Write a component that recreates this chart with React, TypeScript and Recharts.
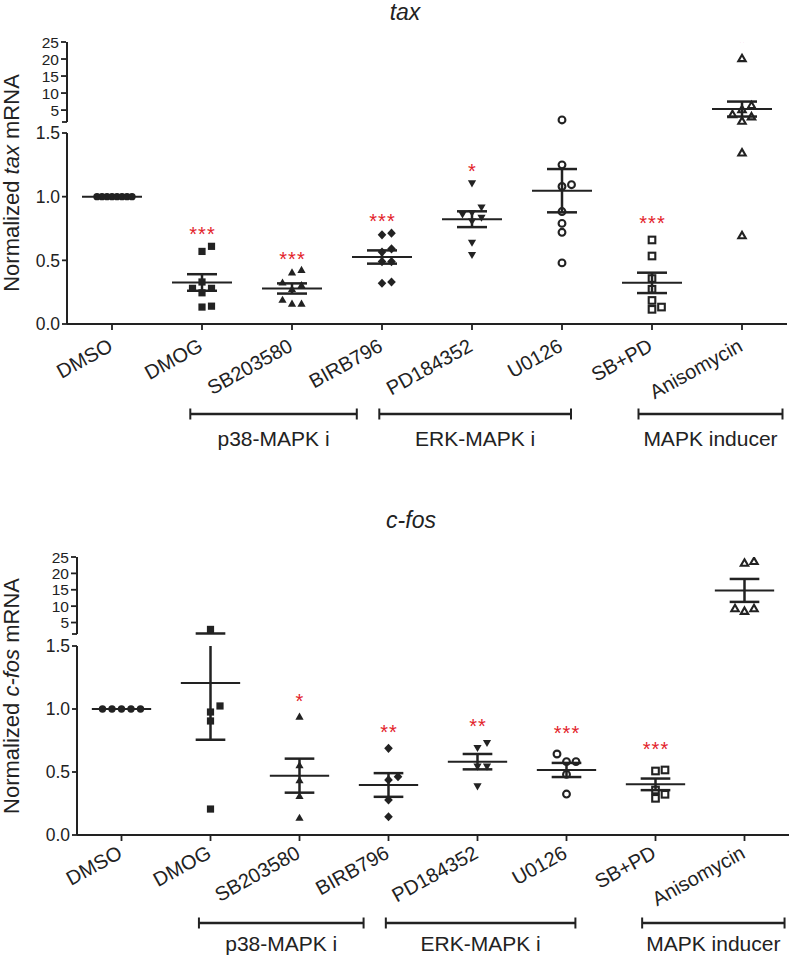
import React from 'react';
import { ComposedChart, Scatter, XAxis, YAxis, ReferenceLine } from 'recharts';

// ---------- data ----------
const categories = ['DMSO', 'DMOG', 'SB203580', 'BIRB796', 'PD184352', 'U0126', 'SB+PD', 'Anisomycin'];
const markerKinds = ['dot', 'square', 'triUp', 'diamond', 'triDown', 'openDot', 'openSquare', 'openTriUp'];

// tax mRNA (normalized)
const taxDMSO = [1, 1, 1, 1, 1, 1, 1, 1];
const taxDMOG = [0.61, 0.57, 0.33, 0.28, 0.28, 0.245, 0.14, 0.133];
const taxSB = [0.42, 0.4, 0.32, 0.3, 0.27, 0.185, 0.155, 0.155];
const taxBIRB = [0.713, 0.7, 0.59, 0.565, 0.49, 0.49, 0.33, 0.32];
const taxPD = [1.11, 0.92, 0.877, 0.865, 0.84, 0.81, 0.643, 0.547];
const taxU0126 = [2.1, 1.25, 1.094, 1.08, 0.883, 0.79, 0.72, 0.48];
const taxSBPD = [0.66, 0.534, 0.357, 0.273, 0.185, 0.133, 0.115];
const taxAniso = [20, 6.2, 5.0, 3.56, 2.9, 1.6, 1.34, 0.69];
const taxMeans = [1.0, 0.326, 0.279, 0.526, 0.823, 1.047, 0.323, 5.3];
const taxSems = [0, 0.065, 0.04, 0.052, 0.062, 0.17, 0.08, 2.2];
const taxSig = ['', '***', '***', '***', '*', '', '***', '*'];

// c-fos mRNA (normalized)
const fosDMSO = [1, 1, 1, 1, 1];
const fosDMOG = [2.9, 1.024, 0.976, 0.905, 0.206];
const fosSB = [0.934, 0.548, 0.429, 0.304, 0.132];
const fosBIRB = [0.688, 0.463, 0.437, 0.278, 0.145];
const fosPD = [0.736, 0.696, 0.548, 0.548, 0.391];
const fosU0126 = [0.643, 0.582, 0.582, 0.481, 0.325];
const fosSBPD = [0.516, 0.508, 0.357, 0.323, 0.291];
const fosAniso = [23.5, 23.0, 9.1, 8.3, 9.1];
const fosMeans = [1.0, 1.206, 0.471, 0.397, 0.582, 0.516, 0.402, 14.8];
const fosSems = [0, 0.45, 0.135, 0.094, 0.061, 0.056, 0.046, 3.5];
const fosSig = ['', '', '*', '**', '**', '***', '***', '*'];

const groupNames = ['p38-MAPK i', 'ERK-MAPK i', 'MAPK inducer'];
const groupSpans = [[0.87, 2.72], [2.97, 5.1], [5.85, 7.45]];

const yTicksLow = [0, 0.5, 1, 1.5];
const yTicksUp = [5, 10, 15, 20, 25];
const BREAK = 1.5;
const UP_MAX = 25;

// ---------- style ----------
const FONT = '"Liberation Sans", Arial, Helvetica, sans-serif';
const INK = '#222';
const RED = '#e3232b';

type PanelCfg = {
  gene: string;
  points: number[][];
  means: number[];
  sems: number[];
  sig: string[];
  chartTop: number;
  chartHeight: number;
  plotLeft: number;
  plotRight: number;
  plotTop: number;
  plotBottom: number;
  lowTopPx: number;
  upBottomPx: number;
  tickDy: number;
  bracketPx: number;
  bracketLabelPx: number;
  starGap: number;
};

const TOP: PanelCfg = {
  gene: 'tax',
  points: [taxDMSO, taxDMOG, taxSB, taxBIRB, taxPD, taxU0126, taxSBPD, taxAniso],
  means: taxMeans, sems: taxSems, sig: taxSig,
  chartTop: 0, chartHeight: 470,
  plotLeft: 67, plotRight: 787, plotTop: 42, plotBottom: 324,
  lowTopPx: 133, upBottomPx: 122,
  tickDy: 18, bracketPx: 90, bracketLabelPx: 32, starGap: 16,
};

const BOTTOM: PanelCfg = {
  gene: 'c-fos',
  points: [fosDMSO, fosDMOG, fosSB, fosBIRB, fosPD, fosU0126, fosSBPD, fosAniso],
  means: fosMeans, sems: fosSems, sig: fosSig,
  chartTop: 480, chartHeight: 477,
  plotLeft: 77, plotRight: 789, plotTop: 557, plotBottom: 835,
  lowTopPx: 646, upBottomPx: 634,
  tickDy: 14, bracketPx: 88, bracketLabelPx: 28, starGap: 20,
};

// ---------- helpers ----------
function swarm(values: number[], toPx: (v: number) => number, step = 9.5, diam = 8, maxHalf = 20): number[] {
  const order = values.map((_, i) => i).sort((a, b) => values[a] - values[b]);
  const placed: { x: number; y: number }[] = [];
  const off = new Array(values.length).fill(0);
  for (const i of order) {
    const y = toPx(values[i]);
    for (let k = 0; k < 60; k++) {
      const c = k === 0 ? 0 : (k % 2 === 1 ? 1 : -1) * Math.ceil(k / 2) * step;
      if (placed.every((p) => Math.hypot(p.x - c, p.y - y) >= diam)) {
        off[i] = c;
        placed.push({ x: c, y });
        break;
      }
    }
  }
  const m = Math.max(...off.map((o) => Math.abs(o)));
  const s = m > maxHalf ? maxHalf / m : 1;
  return off.map((o) => o * s);
}

function Marker({ cx, cy, kind }: { cx: number; cy: number; kind: string }) {
  if (cx == null || cy == null) return null;
  switch (kind) {
    case 'dot':
      return <circle cx={cx} cy={cy} r={3.7} fill={INK} />;
    case 'square':
      return <rect x={cx - 3.6} y={cy - 3.6} width={7.2} height={7.2} fill={INK} />;
    case 'triUp': {
      const s = 8.2, h = s * 0.866;
      return <polygon points={`${cx},${cy - (h * 2) / 3} ${cx + s / 2},${cy + h / 3} ${cx - s / 2},${cy + h / 3}`} fill={INK} />;
    }
    case 'diamond':
      return <polygon points={`${cx},${cy - 4.6} ${cx + 4.3},${cy} ${cx},${cy + 4.6} ${cx - 4.3},${cy}`} fill={INK} />;
    case 'triDown': {
      const s = 8.2, h = s * 0.866;
      return <polygon points={`${cx},${cy + (h * 2) / 3} ${cx + s / 2},${cy - h / 3} ${cx - s / 2},${cy - h / 3}`} fill={INK} />;
    }
    case 'openDot':
      return <circle cx={cx} cy={cy} r={3.4} fill="none" stroke={INK} strokeWidth={2.1} />;
    case 'openSquare':
      return <rect x={cx - 3.3} y={cy - 3.3} width={6.6} height={6.6} fill="none" stroke={INK} strokeWidth={2.1} />;
    case 'openTriUp': {
      const s = 7.4, h = s * 0.866;
      return (
        <polygon
          points={`${cx},${cy - (h * 2) / 3} ${cx + s / 2},${cy + h / 3} ${cx - s / 2},${cy + h / 3}`}
          fill="none" stroke={INK} strokeWidth={2.1}
        />
      );
    }
    default:
      return null;
  }
}

function CatTick(props: any) {
  const { x, y, payload, dyOff } = props;
  return (
    <g transform={`translate(${x + 2},${y + dyOff})`}>
      <text textAnchor="end" transform="rotate(-29)" fontSize={20} fill={INK} fontFamily={FONT}>
        {categories[payload.value]}
      </text>
    </g>
  );
}

function YLabel(props: any) {
  const { lx, ly, gene } = props;
  return (
    <text transform={`translate(${lx},${ly}) rotate(-90)`} textAnchor="middle" fontSize={22} fill={INK} fontFamily={FONT}>
      {'Normalized '}
      <tspan fontStyle="italic">{gene}</tspan>
      {' mRNA'}
    </text>
  );
}

function GroupLabel(props: any) {
  const { viewBox, txt, gy } = props;
  const vb = viewBox || { x: 0, y: 0, width: 0 };
  return (
    <text x={vb.x + (vb.width || 0) / 2} y={vb.y + gy} textAnchor="middle" fontSize={21} fill={INK} fontFamily={FONT}>
      {txt}
    </text>
  );
}

function Panel({ cfg }: { cfg: PanelCfg }) {
  const plotH = cfg.plotBottom - cfg.plotTop;
  const lowPPU = (cfg.plotBottom - cfg.lowTopPx) / BREAK;
  const upPPU = (cfg.upBottomPx - cfg.plotTop) / (UP_MAX - BREAK);
  const lowDomain: [number, number] = [0, plotH / lowPPU];
  const upDomain: [number, number] = [UP_MAX - plotH / upPPU, UP_MAX];
  const band = (cfg.plotRight - cfg.plotLeft) / categories.length;
  const isUp = (v: number) => v > BREAK;
  const toPx = (v: number) => (isUp(v) ? cfg.upBottomPx - (v - BREAK) * upPPU : cfg.plotBottom - v * lowPPU);
  const axisOf = (v: number) => (isUp(v) ? 'up' : 'low');

  const els: React.ReactElement[] = [];
  const seg = (key: string, x1: number, y1: number, x2: number, y2: number, axis: string, sw: number, label?: any) => (
    <ReferenceLine
      key={key}
      yAxisId={axis}
      segment={[{ x: x1, y: y1 }, { x: x2, y: y2 }]}
      stroke={INK}
      strokeWidth={sw}
      ifOverflow="visible"
      label={label}
    />
  );

  // broken y-axis line segments (with a small foot at the lower end of the upper segment)
  els.push(seg('ax-low', -0.5, 0, -0.5, BREAK, 'low', 2));
  els.push(seg('ax-up', -0.5, BREAK, -0.5, UP_MAX, 'up', 2));
  els.push(seg('ax-foot', -0.5 - 5 / band, BREAK, -0.5, BREAK, 'up', 1.8));

  // points
  categories.forEach((_, i) => {
    const vals = cfg.points[i];
    const offs = swarm(vals, toPx);
    const pts = vals.map((v, j) => ({ x: i + offs[j] / band, y: v }));
    const kind = markerKinds[i];
    const shape = (p: any) => <Marker cx={p.cx} cy={p.cy} kind={kind} />;
    const low = pts.filter((p) => !isUp(p.y));
    const up = pts.filter((p) => isUp(p.y));
    if (low.length)
      els.push(<Scatter key={`pl-${i}`} data={low} yAxisId="low" shape={shape} isAnimationActive={false} />);
    if (up.length)
      els.push(<Scatter key={`pu-${i}`} data={up} yAxisId="up" shape={shape} isAnimationActive={false} />);
  });

  // mean & SEM
  categories.forEach((_, i) => {
    const m = cfg.means[i];
    const s = cfg.sems[i];
    els.push(seg(`mean-${i}`, i - 1 / 3, m, i + 1 / 3, m, axisOf(m), 2));
    if (s > 0) {
      const lo = m - s;
      const hi = m + s;
      if (!isUp(hi)) {
        els.push(seg(`v-${i}`, i, lo, i, hi, 'low', 2.5));
      } else if (isUp(lo)) {
        els.push(seg(`v-${i}`, i, lo, i, hi, 'up', 2.5));
      } else {
        els.push(seg(`vl-${i}`, i, lo, i, BREAK, 'low', 2.5));
        els.push(seg(`vu-${i}`, i, BREAK, i, hi, 'up', 2.5));
      }
      els.push(seg(`ch-${i}`, i - 1 / 6, hi, i + 1 / 6, hi, axisOf(hi), 2.5));
      els.push(seg(`cl-${i}`, i - 1 / 6, lo, i + 1 / 6, lo, axisOf(lo), 2.5));
    }
  });

  // significance stars
  const starLow: any[] = [];
  const starUp: any[] = [];
  categories.forEach((_, i) => {
    if (!cfg.sig[i]) return;
    const mx = Math.max(...cfg.points[i]);
    const gap = cfg.starGap + (markerKinds[i].startsWith('open') ? 5 : 0);
    const d = { x: i, y: mx, txt: cfg.sig[i], gap };
    (isUp(mx) ? starUp : starLow).push(d);
  });
  const starShape = (p: any) => {
    const d = p.payload || {};
    return (
      <text x={p.cx + 0.5} y={p.cy - d.gap + 11} textAnchor="middle" fontSize={20} fill={RED} fontFamily={FONT} letterSpacing={1}>
        {d.txt}
      </text>
    );
  };
  if (starLow.length) els.push(<Scatter key="st-l" data={starLow} yAxisId="low" shape={starShape} isAnimationActive={false} />);
  if (starUp.length) els.push(<Scatter key="st-u" data={starUp} yAxisId="up" shape={starShape} isAnimationActive={false} />);

  // group brackets
  const by = -cfg.bracketPx / lowPPU;
  const cap = 5.5 / lowPPU;
  groupSpans.forEach(([a, b], g) => {
    els.push(seg(`br-${g}`, a, by, b, by, 'low', 2.5, <GroupLabel txt={groupNames[g]} gy={cfg.bracketLabelPx} />));
    els.push(seg(`bra-${g}`, a, by - cap, a, by + cap, 'low', 2));
    els.push(seg(`brb-${g}`, b, by - cap, b, by + cap, 'low', 2));
  });

  const xAxisH = 30;
  const yAxisW = 1;
  const margin = {
    top: cfg.plotTop - cfg.chartTop,
    left: cfg.plotLeft - 2 * yAxisW,
    right: 790 - cfg.plotRight,
    bottom: cfg.chartHeight - (cfg.plotBottom - cfg.chartTop) - xAxisH,
  };
  const labelY = (cfg.plotTop + cfg.plotBottom) / 2 - cfg.chartTop;

  return (
    <div style={{ position: 'absolute', left: 0, top: cfg.chartTop }}>
      <ComposedChart width={790} height={cfg.chartHeight} margin={margin}>
        <XAxis
          xAxisId={0}
          type="number"
          dataKey="x"
          domain={[-0.5, categories.length - 0.5]}
          ticks={categories.map((_, i) => i)}
          interval={0}
          allowDataOverflow
          height={xAxisH}
          tickSize={6}
          tickLine={{ stroke: INK, strokeWidth: 1.8 }}
          axisLine={{ stroke: INK, strokeWidth: 2 }}
          tick={(p: any) => <CatTick {...p} dyOff={cfg.tickDy} />}
        />
        <YAxis
          yAxisId="low"
          type="number"
          dataKey="y"
          domain={lowDomain}
          allowDataOverflow
          ticks={yTicksLow}
          interval={0}
          width={yAxisW}
          axisLine={false}
          tickSize={5}
          tickLine={{ stroke: INK, strokeWidth: 1.8 }}
          tick={{ fontSize: 17.5, fill: INK, fontFamily: FONT }}
          tickFormatter={(v: number) => v.toFixed(1)}
          label={<YLabel lx={19} ly={labelY} gene={cfg.gene} />}
        />
        <YAxis
          yAxisId="up"
          type="number"
          dataKey="y"
          domain={upDomain}
          allowDataOverflow
          ticks={yTicksUp}
          interval={0}
          width={yAxisW}
          axisLine={false}
          tickSize={5}
          tickLine={{ stroke: INK, strokeWidth: 1.8 }}
          tick={{ fontSize: 15.5, fill: INK, fontFamily: FONT }}
          tickFormatter={(v: number) => String(v)}
        />
        {els}
      </ComposedChart>
    </div>
  );
}

export default function App() {
  return (
    <div style={{ position: 'absolute', left: 0, top: 0, width: 790, height: 957, background: '#fff', fontFamily: FONT }}>
      <Panel cfg={TOP} />
      <Panel cfg={BOTTOM} />
      <svg width={790} height={957} style={{ position: 'absolute', left: 0, top: 0, pointerEvents: 'none' }}>
        <text x={405} y={20} textAnchor="middle" fontSize={23} fontStyle="italic" fill={INK} fontFamily={FONT}>
          {TOP.gene}
        </text>
        <text x={411} y={528} textAnchor="middle" fontSize={23} fontStyle="italic" fill={INK} fontFamily={FONT}>
          {BOTTOM.gene}
        </text>
      </svg>
    </div>
  );
}
